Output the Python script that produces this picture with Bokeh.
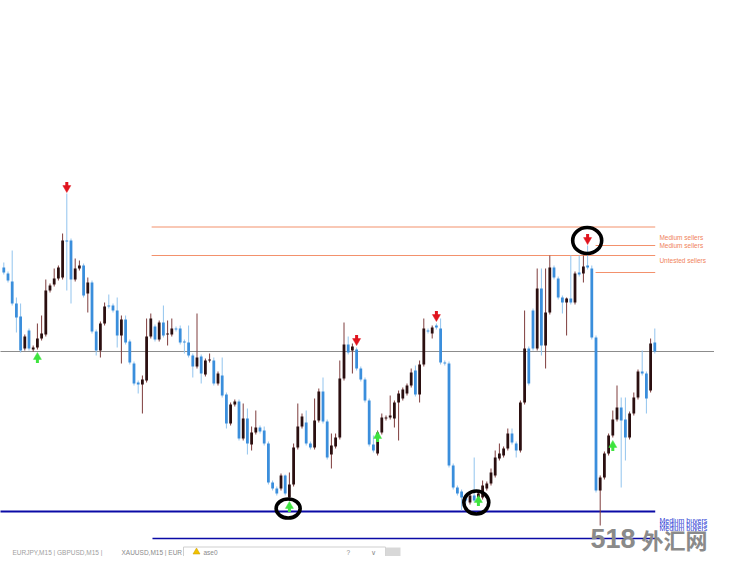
import numpy as np
from bokeh.plotting import figure
from bokeh.models import Range1d
from bokeh.embed import file_html
from bokeh.resources import INLINE
from bokeh.core.properties import value

# ---------------- data (bar index = 0..155, price in chart units) ----------------
opens = [
    733, 727, 719, 697, 684, 652, 670, 651, 653, 662,
    666, 710, 716, 722, 723, 760, 760, 721, 732, 735,
    707, 718, 669, 650, 677, 695, 695, 690, 665, 681,
    659, 637, 618, 616, 620, 664, 674, 661, 678, 666,
    666, 672, 672, 659, 658, 645, 634, 644, 626, 640,
    640, 617, 625, 606, 577, 596, 599, 562, 582, 556,
    568, 573, 570, 557, 518, 512, 512, 525, 503, 516,
    553, 574, 578, 557, 553, 580, 609, 579, 546, 554,
    563, 622, 656, 650, 651, 632, 621, 600, 556, 547,
    568, 582, 583, 582, 598, 602, 607, 615, 630, 606,
    636, 670, 667, 675, 672, 638, 637, 535, 513, 509,
    503, 498, 505, 503, 503, 512, 517, 525, 542, 545,
    552, 567, 557, 550, 598, 652, 690, 652, 712, 655,
    688, 733, 722, 703, 698, 702, 698, 728, 727, 735,
    732, 663, 510, 523, 547, 565, 581, 593, 581, 563,
    587, 603, 629, 627, 610, 658]
highs = [
    738, 729, 750, 703, 697, 666, 672, 655, 677, 685,
    721, 717, 732, 735, 767, 807, 762, 742, 740, 737,
    723, 720, 671, 679, 698, 706, 697, 703, 685, 685,
    661, 639, 620, 625, 682, 687, 676, 680, 695, 680,
    682, 674, 675, 661, 675, 647, 687, 646, 642, 647,
    643, 629, 643, 608, 598, 601, 601, 597, 592, 574,
    590, 575, 574, 559, 520, 514, 527, 526, 528, 557,
    597, 587, 590, 559, 602, 612, 623, 581, 567, 567,
    640, 678, 664, 657, 653, 634, 623, 602, 565, 570,
    587, 585, 605, 600, 610, 613, 617, 632, 635, 640,
    682, 672, 675, 677, 682, 640, 639, 537, 515, 511,
    505, 507, 543, 510, 520, 519, 532, 550, 557, 554,
    572, 572, 559, 600, 690, 654, 692, 732, 732, 732,
    745, 735, 724, 705, 703, 745, 729, 745, 745, 755,
    735, 665, 525, 549, 567, 590, 615, 603, 603, 589,
    608, 631, 650, 629, 662, 672]
lows = [
    726, 718, 695, 668, 648, 650, 650, 649, 651, 660,
    664, 708, 714, 720, 721, 710, 697, 719, 730, 703,
    688, 667, 645, 643, 675, 692, 688, 653, 637, 656,
    636, 615, 607, 587, 618, 662, 659, 659, 663, 655,
    664, 669, 656, 647, 643, 623, 632, 617, 624, 638,
    615, 615, 603, 572, 575, 594, 560, 560, 546, 550,
    566, 567, 555, 516, 510, 505, 510, 505, 501, 514,
    551, 572, 555, 551, 551, 578, 577, 541, 532, 552,
    561, 620, 646, 627, 630, 619, 598, 554, 548, 545,
    566, 580, 581, 573, 560, 600, 605, 613, 604, 598,
    634, 667, 662, 671, 636, 635, 533, 511, 505, 490,
    497, 496, 498, 501, 501, 510, 515, 523, 540, 543,
    550, 556, 543, 548, 596, 615, 650, 650, 645, 632,
    686, 721, 701, 687, 665, 696, 696, 724, 718, 731,
    661, 508, 475, 521, 545, 563, 579, 513, 540, 561,
    585, 601, 625, 587, 608, 647]
closes = [
    728, 720, 697, 683, 650, 664, 652, 653, 662, 667,
    710, 715, 722, 733, 760, 759, 721, 732, 735, 705,
    718, 669, 650, 677, 694, 694, 690, 665, 681, 658,
    638, 617, 616, 621, 664, 682, 661, 678, 665, 667,
    672, 671, 658, 658, 645, 634, 643, 627, 640, 641,
    617, 627, 605, 577, 596, 599, 562, 582, 557, 568,
    573, 569, 557, 518, 512, 507, 525, 507, 516, 553,
    574, 584, 557, 553, 580, 609, 579, 543, 555, 563,
    622, 656, 648, 654, 632, 621, 600, 556, 550, 568,
    583, 583, 585, 598, 607, 611, 615, 628, 606, 636,
    672, 669, 673, 673, 638, 637, 535, 513, 507, 503,
    500, 505, 500, 507, 515, 517, 528, 543, 547, 552,
    567, 558, 550, 598, 652, 617, 652, 712, 655, 688,
    733, 723, 703, 698, 702, 698, 727, 726, 734, 733,
    663, 510, 523, 547, 565, 581, 593, 580, 563, 587,
    603, 629, 627, 602, 657, 649]

# signal arrows: bar index and arrow-tip price
sell_arrow_bar = [15, 84, 103, 139]
sell_arrow_tip = [808, 655, 679, 756]
buy_arrow_bar = [8, 68, 89, 113, 145]
buy_arrow_tip = [648, 499, 569, 505, 560]

# highlighted signals (circles): bar position and price
circle_bar = [67.7, 112.5, 138.9]
circle_price = [492, 498, 760]

# levels
bid_level = 649
seller_levels = [773.5, 745, 755, 728]
seller_start = [35.2, 35.2, 140.9, 140.9]
buyer_levels = [489, 462]
buyer_start = [-2, 35.4]
zone_end = 155.1
seller_labels = ["Medium sellers", "Medium sellers", "Untested sellers"]
seller_label_price = [763, 755, 740]
buyer_labels = ["Medium buyers", "Medium buyers", "Medium buyers"]
buyer_label_price = [480.5, 476.5, 472.5]
label_bar = 156.1

# ---------------- figure ----------------
n = min(len(opens), len(highs), len(lows), len(closes))
o = np.array(opens[:n], float)
h = np.array(highs[:n], float)
l = np.array(lows[:n], float)
c = np.array(closes[:n], float)
idx = np.arange(n)
bull = c > o

BULL_BODY = "#2b0f10"
BEAR_BODY = "#3a8edc"
BULL_WICK = "#7e3c3c"
BEAR_WICK = "#92c4ee"
RED = "#e0141e"
GREEN = "#3ee43e"
ORANGE = "#f3916c"
NAVY = "#0a0aa6"

W, H = 714, 556

def X2i(X):
    return (X - 3.3) / 4.2

def Y2P(Y):
    return 1000 - Y

p = figure(width=W, height=H,
           x_range=Range1d(X2i(0), X2i(W)),
           y_range=Range1d(Y2P(H), Y2P(0)),
           x_axis_type=None, y_axis_type=None,
           output_backend="svg", toolbar_location=None, min_border=0)
p.grid.visible = False
p.outline_line_color = None
p.background_fill_color = "white"
p.border_fill_color = "white"

# levels
p.segment(x0=[-5], y0=[bid_level], x1=[200], y1=[bid_level], line_color="#8c8c8c", line_width=1)
p.segment(x0=seller_start, y0=seller_levels, x1=[zone_end] * len(seller_levels), y1=seller_levels,
          line_color=ORANGE, line_width=1.2)
p.segment(x0=buyer_start[:1], y0=buyer_levels[:1], x1=[zone_end], y1=buyer_levels[:1],
          line_color=NAVY, line_width=2.2)
p.segment(x0=buyer_start[1:], y0=buyer_levels[1:], x1=[zone_end], y1=buyer_levels[1:],
          line_color=NAVY, line_width=1.4)

# candles
wick_colors = [BULL_WICK if b else BEAR_WICK for b in bull]
body_colors = [BULL_BODY if b else BEAR_BODY for b in bull]
p.segment(x0=idx, y0=l, x1=idx, y1=h, line_color=wick_colors, line_width=1)
p.vbar(x=idx, width=0.66, top=np.maximum(o, c), bottom=np.minimum(o, c),
       fill_color=body_colors, line_color=None)

# arrows
sb = np.array(sell_arrow_bar, float)
st = np.array(sell_arrow_tip, float)
p.segment(x0=sb, y0=st + 6, x1=sb, y1=st + 10.5, line_color=RED, line_width=3)
p.scatter(x=sb, y=st + 4.6, marker="inverted_triangle", size=8, fill_color=RED, line_color=RED, line_width=0.5)
bb = np.array(buy_arrow_bar, float)
bt = np.array(buy_arrow_tip, float)
p.segment(x0=bb, y0=bt - 6, x1=bb, y1=bt - 10.5, line_color=GREEN, line_width=3)
p.scatter(x=bb, y=bt - 4.6, marker="triangle", size=8, fill_color=GREEN, line_color=GREEN, line_width=0.5)

# circles
p.ellipse(x=circle_bar, y=circle_price, width=[24, 25, 29], height=[19, 23, 26],
          width_units="screen", height_units="screen",
          fill_color=None, line_color="black", line_width=3.6)

# labels
p.text(x=[label_bar] * 3, y=seller_label_price, text=seller_labels,
       text_font=value("Liberation Sans"), text_font_size="6.5px",
       text_color="#f0825a", text_baseline="middle", text_align="left")
p.text(x=[label_bar] * 3, y=buyer_label_price, text=buyer_labels,
       text_font=value("Liberation Sans"), text_font_size="7px",
       text_color="#2f3fd4", text_baseline="middle", text_align="left")

# bottom terminal strip (decoration)
ys = Y2P(551.5)
p.text(x=[X2i(12)], y=[ys], text=["EURJPY,M15  |  GBPUSD,M15  |"],
       text_font=value("Liberation Sans"), text_font_size="6.5px", text_color="#a0a0a0",
       text_baseline="middle", text_align="left")
p.text(x=[X2i(121)], y=[ys], text=["XAUUSD,M15  |  EUR"],
       text_font=value("Liberation Sans"), text_font_size="6.5px", text_color="#8a8a8a",
       text_baseline="middle", text_align="left")
p.quad(left=[X2i(183)], right=[X2i(385)], bottom=[Y2P(575)], top=[Y2P(546.5)],
       fill_color="white", line_color="#cfcfcf", line_width=1)
p.quad(left=[X2i(385)], right=[X2i(400)], bottom=[Y2P(560)], top=[Y2P(547)],
       fill_color="#d8d8d8", line_color=None)
p.scatter(x=[X2i(196)], y=[ys], marker="triangle", size=7,
          fill_color="#f2c200", line_color="#c79a00", line_width=0.5)
p.text(x=[X2i(203), X2i(346), X2i(370)], y=[ys] * 3, text=["ase0", "?", "∨"],
       text_font=value("Liberation Sans"), text_font_size="6.5px", text_color="#8a8a8a",
       text_baseline="middle", text_align="left")

# watermark
p.text(x=[X2i(590)], y=[Y2P(538)], text=["518"],
       text_font=value("Liberation Sans"), text_font_size="27px", text_font_style="bold",
       text_color="#8a8a8a", text_baseline="middle", text_align="left")
p.text(x=[X2i(641)], y=[Y2P(538)], text=["外汇网"],
       text_font=value("Noto Sans CJK SC"), text_font_size="22px", text_font_style="bold",
       text_color="#8a8a8a", text_baseline="middle", text_align="left")

open("out.html", "w").write(file_html(p, INLINE))
